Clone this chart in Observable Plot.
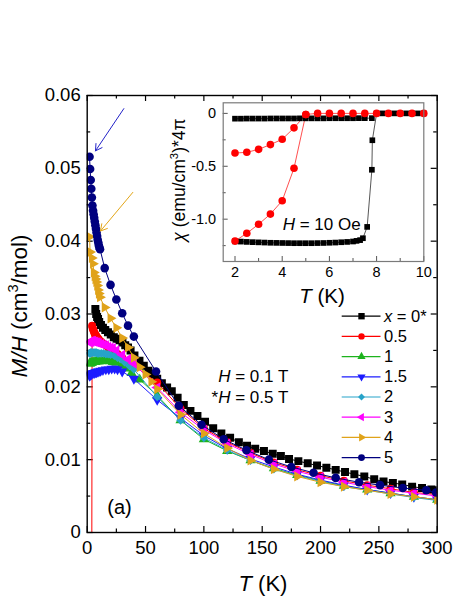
<!DOCTYPE html>
<html><head><meta charset="utf-8">
<script src="https://cdn.jsdelivr.net/npm/d3@7"></script>
<script src="https://cdn.jsdelivr.net/npm/@observablehq/plot@0.6"></script>
<style>
body{margin:0;background:#fff;}
#wrap{position:relative;width:463px;height:599px;overflow:hidden;background:#fff;}
#main{position:absolute;left:0;top:0;}
#inset{position:absolute;left:170px;top:95px;}
</style></head>
<body><div id="wrap"><div id="main"></div><div id="inset"></div></div>
<script>
// ---------------- data (main chart: M/H vs T) ----------------
const seriesNames = ["x = 0*", "0.5", "1", "1.5", "2", "3", "4", "5"];

const T_x0 = [7, 7.7, 8.5, 9.3, 10.3, 11.8, 13.5, 15.5, 17.8, 20.2, 22.8, 25.2, 27.7, 30.2, 32.6, 35, 37.2, 40.5, 44.8, 48.5, 52.5, 56.3, 60, 64, 68.5, 72.5, 77.5, 82.8, 88.5, 94.5, 101, 108, 115, 122.5, 130, 137, 144, 151.5, 159, 166, 173, 181, 189, 197, 205, 213, 221, 229, 237.5, 246, 254, 262, 270, 278.5, 287, 295, 300];
const M_x0 = [0.0307, 0.0300, 0.0296, 0.0293, 0.0289, 0.0285, 0.0281, 0.0278, 0.0275, 0.0272, 0.0268, 0.0266, 0.0264, 0.0261, 0.0257, 0.0254, 0.0250, 0.0243, 0.0236, 0.0229, 0.0222, 0.0217, 0.0211, 0.0205, 0.0199, 0.0194, 0.0185, 0.0175, 0.0167, 0.0160, 0.0152, 0.0143, 0.0136, 0.0130, 0.0124, 0.0119, 0.0115, 0.0112, 0.0108, 0.0105, 0.0101, 0.0098, 0.0095, 0.0092, 0.0089, 0.0086, 0.0083, 0.0080, 0.0077, 0.0073, 0.0070, 0.0068, 0.0066, 0.0063, 0.0061, 0.0059, 0.0058];

const T_x05 = [2, 3.9, 4.2, 4.6, 5, 5.5, 6, 6.5, 7, 7.5, 8, 9, 10, 12, 14, 16, 18, 20, 23, 26, 30, 35, 40, 60, 80, 100, 120, 140, 160, 180, 200, 220, 240, 260, 280, 300];
const M_x05 = [-0.02, -0.01, 0.0284, 0.0281, 0.0279, 0.0277, 0.0275, 0.0273, 0.0272, 0.0270, 0.0269, 0.0267, 0.0265, 0.0262, 0.0259, 0.0257, 0.0254, 0.0252, 0.0249, 0.0245, 0.0240, 0.0235, 0.0229, 0.0206, 0.0170, 0.0143, 0.0124, 0.0109, 0.0096, 0.0086, 0.0078, 0.0071, 0.0065, 0.0060, 0.0055, 0.0052];

const T_x1 = [2, 2.5, 3, 3.5, 4, 5, 6, 7, 8, 9, 10, 12, 14, 16, 18, 20, 22, 25, 29, 33, 38, 45, 60, 80, 100, 120, 140, 160, 180, 200, 220, 240, 260, 280, 300];
const M_x1 = [0.0232, 0.0232, 0.0233, 0.0233, 0.0233, 0.0234, 0.0234, 0.0234, 0.0235, 0.0235, 0.0235, 0.0235, 0.0236, 0.0236, 0.0236, 0.0235, 0.0234, 0.0233, 0.0229, 0.0225, 0.0219, 0.0210, 0.0188, 0.0154, 0.0128, 0.0112, 0.0099, 0.0088, 0.0079, 0.0071, 0.0064, 0.0059, 0.0054, 0.0049, 0.0045];

const T_x15 = [2, 2.5, 3, 3.5, 4, 5, 6, 7, 8, 9, 10, 11.5, 13.5, 16, 18.5, 21, 23.5, 26, 30, 40, 60, 80, 100, 120, 140, 160, 180, 200, 220, 240, 260, 280, 300];
const M_x15 = [0.0215, 0.0216, 0.0217, 0.0217, 0.0218, 0.0219, 0.0219, 0.0220, 0.0220, 0.0221, 0.0221, 0.0222, 0.0223, 0.0224, 0.0224, 0.0225, 0.0225, 0.0224, 0.0221, 0.0211, 0.0182, 0.0157, 0.0133, 0.0115, 0.0101, 0.0090, 0.0080, 0.0072, 0.0065, 0.0059, 0.0054, 0.0049, 0.0045];

const T_x2 = [2, 2.5, 3, 3.5, 4, 5, 6, 7, 8, 9, 10, 12, 14, 16, 18, 20, 23, 26, 29, 32, 36, 40, 60, 80, 100, 120, 140, 160, 180, 200, 220, 240, 260, 280, 300];
const M_x2 = [0.0246, 0.0246, 0.0247, 0.0247, 0.0247, 0.0247, 0.0247, 0.0247, 0.0247, 0.0246, 0.0246, 0.0246, 0.0246, 0.0245, 0.0245, 0.0244, 0.0243, 0.0240, 0.0238, 0.0234, 0.0229, 0.0224, 0.0186, 0.0154, 0.0130, 0.0113, 0.0099, 0.0087, 0.0078, 0.0070, 0.0063, 0.0058, 0.0053, 0.0048, 0.0044];

const T_x3 = [2, 2.5, 3, 3.5, 4, 5, 6, 7, 8, 9, 10, 12, 14, 16, 18, 20, 22, 25, 30, 35, 40, 60, 80, 100, 120, 140, 160, 180, 200, 220, 240, 260, 280, 300];
const M_x3 = [0.0261, 0.0262, 0.0262, 0.0262, 0.0263, 0.0263, 0.0262, 0.0262, 0.0261, 0.0261, 0.0260, 0.0259, 0.0258, 0.0257, 0.0255, 0.0254, 0.0253, 0.0250, 0.0244, 0.0238, 0.0232, 0.0199, 0.0165, 0.0141, 0.0122, 0.0107, 0.0094, 0.0084, 0.0076, 0.0069, 0.0063, 0.0058, 0.0054, 0.0050];

const T_x4 = [2, 2.5, 4, 5, 5.7, 6.4, 7.1, 7.8, 8.6, 9.3, 10, 11, 15, 20, 25, 30, 35, 40, 45, 50, 55, 60, 80, 100, 120, 140, 160, 180, 200, 220, 240, 260, 280, 300];
const M_x4 = [0.0406, 0.0385, 0.0377, 0.0369, 0.0357, 0.0352, 0.0348, 0.0344, 0.0339, 0.0333, 0.0328, 0.0323, 0.0309, 0.0294, 0.0281, 0.0267, 0.0254, 0.0240, 0.0227, 0.0217, 0.0207, 0.0197, 0.0162, 0.0136, 0.0116, 0.0099, 0.0087, 0.0077, 0.0069, 0.0063, 0.0058, 0.0053, 0.0049, 0.0045];

const T_x5 = [2, 2.5, 3, 3.5, 4, 4.5, 5, 5.5, 6, 6.5, 7, 7.5, 8, 8.5, 9, 9.5, 10, 10.5, 11, 15, 20, 25, 30, 35, 40, 59, 78.5, 98, 117, 136.5, 155.7, 175, 194, 213, 233, 251, 270.5, 290.6, 299];
const M_x5 = [0.0516, 0.0499, 0.0484, 0.0472, 0.0460, 0.0449, 0.0442, 0.0437, 0.0432, 0.0427, 0.0422, 0.0417, 0.0412, 0.0407, 0.0402, 0.0398, 0.0394, 0.0391, 0.0389, 0.0363, 0.0340, 0.0320, 0.0301, 0.0284, 0.0269, 0.0221, 0.0174, 0.0148, 0.0128, 0.0113, 0.0100, 0.0090, 0.0082, 0.0075, 0.0069, 0.0065, 0.0061, 0.0058, 0.0055];

// annotation arrows (T, M/H) start -> end
const arrowStart = [[31.4, 0.0582], [39.1, 0.0467]];
const arrowEnd = [[7.1, 0.0524], [11.4, 0.0414]];

// tick values
const xTicks = [0, 50, 100, 150, 200, 250, 300];
const xMinorTicks = [25, 75, 125, 175, 225, 275];
const yTicks = [0, 0.01, 0.02, 0.03, 0.04, 0.05, 0.06];
const yMinorTicks = [0.005, 0.015, 0.025, 0.035, 0.045, 0.055];

// ---------------- data (inset: chi vs T at 10 Oe) ----------------
const insetT_x0_zfc = [2, 2.25, 2.5, 2.75, 3, 3.25, 3.5, 3.75, 4, 4.25, 4.5, 4.75, 5, 5.25, 5.5, 5.75, 6, 6.25, 6.5, 6.75, 7, 7.15, 7.3, 7.42, 7.6, 7.8, 7.82, 8, 8.25, 8.5, 8.75, 9, 9.25, 9.5, 9.75, 10];
const insetChi_x0_zfc = [-1.21, -1.212, -1.215, -1.217, -1.219, -1.221, -1.223, -1.224, -1.225, -1.226, -1.227, -1.227, -1.227, -1.227, -1.226, -1.225, -1.223, -1.221, -1.218, -1.215, -1.211, -1.205, -1.198, -1.18, -1.073, -0.533, -0.254, 0, 0, 0, 0, 0, 0, 0, 0, 0];
const insetT_x0_fc = [2, 2.25, 2.5, 2.75, 3, 3.25, 3.5, 3.75, 4, 4.25, 4.5, 4.75, 5, 5.25, 5.5, 5.75, 6, 6.25, 6.5, 6.75, 7, 7.25, 7.5, 7.8];
const insetChi_x0_fc = [-0.050, -0.050, -0.049, -0.049, -0.049, -0.049, -0.048, -0.048, -0.048, -0.048, -0.048, -0.047, -0.047, -0.047, -0.047, -0.047, -0.046, -0.046, -0.046, -0.046, -0.046, -0.045, -0.045, -0.045];
const insetT_x05_zfc = [2, 2.5, 3, 3.5, 4, 4.5, 5, 5.5, 6, 6.5, 7, 7.5, 8, 8.5, 9, 9.5, 10];
const insetChi_x05_zfc = [-1.207, -1.133, -1.048, -0.952, -0.826, -0.518, -0.01, 0, 0, 0, 0, 0, 0, 0, 0, 0, 0];
const insetT_x05_fc = [2, 2.5, 3, 3.5, 4, 4.5, 5];
const insetChi_x05_fc = [-0.375, -0.368, -0.34, -0.295, -0.245, -0.137, -0.01];

const insetXTicks = [2, 4, 6, 8, 10];
const insetXMinorTicks = [3, 5, 7, 9];
const insetYTicks = [0, -0.5, -1.0];
const insetYLabels = ["0", "-0.5", "-1.0"];
const insetYMinorTicks = [-0.25, -0.75, -1.25];

// ---------------- styles ----------------
const FONT = '"Liberation Sans", Arial, sans-serif';
const S3 = Math.sqrt(3);
function tri(rotDeg) {
  const a = rotDeg * Math.PI / 180, c = Math.cos(a), s = Math.sin(a);
  return {draw(ctx, size) {
    const y = -Math.sqrt(size / (S3 * 3));
    const pts = [[0, y * 2], [-S3 * y, -y], [S3 * y, -y]];
    pts.forEach(([px, py], i) => {
      const X = px * c - py * s, Y = px * s + py * c;
      if (i) ctx.lineTo(X, Y); else ctx.moveTo(X, Y);
    });
    ctx.closePath();
  }};
}
const colors = ["#000000", "#ff0000", "#1db31d", "#1c1cff", "#27a3c9", "#ff00ff", "#e0a31a", "#00007f"];
const symbols = ["square", "circle", tri(0), tri(180), "diamond2", tri(-90), tri(90), "circle"];
const radii = [4.5, 4.0, 3.8, 3.8, 3.9, 3.8, 3.8, 4.3];
const Ts = [T_x0, T_x05, T_x1, T_x15, T_x2, T_x3, T_x4, T_x5];
const Ms = [M_x0, M_x05, M_x1, M_x15, M_x2, M_x3, M_x4, M_x5];

// ---------------- main plot ----------------
const W = 463, H = 599, ML = 86.7, MR = 26.3, MT = 95, MB = 67;
const xpx = 300 / (W - ML - MR), ypx = 0.06 / (H - MT - MB);
const xOf = px => (px - ML) * xpx;
const yOf = py => (H - MB - py) * ypx;

const marks = [];
const tk = {stroke: "#000", strokeWidth: 1.2};
marks.push(Plot.ruleX(xTicks, {y1: 0, y2: 6 * ypx, ...tk}));
marks.push(Plot.ruleX(xMinorTicks, {y1: 0, y2: 3.5 * ypx, ...tk}));
marks.push(Plot.ruleX(xTicks, {y1: 0.06, y2: 0.06 - 6 * ypx, ...tk}));
marks.push(Plot.ruleX(xMinorTicks, {y1: 0.06, y2: 0.06 - 3.5 * ypx, ...tk}));
marks.push(Plot.ruleY(yTicks, {x1: 0, x2: 6 * xpx, ...tk}));
marks.push(Plot.ruleY(yMinorTicks, {x1: 0, x2: 3.5 * xpx, ...tk}));
marks.push(Plot.ruleY(yTicks, {x1: 300, x2: 300 - 6 * xpx, ...tk}));
marks.push(Plot.ruleY(yMinorTicks, {x1: 300, x2: 300 - 3.5 * xpx, ...tk}));
marks.push(Plot.axisX({ticks: xTicks, tickSize: 0, tickPadding: 8, label: null, fontSize: 18.5, anchor: "bottom"}));
marks.push(Plot.axisY({ticks: yTicks, tickSize: 0, tickPadding: 6.5, label: null, fontSize: 18.5, anchor: "left",
  tickFormat: d => d === 0 ? "0" : d.toFixed(2)}));

seriesNames.forEach((name, k) => {
  const data = Ts[k].map((t, i) => ({T: t, v: Ms[k][i]}));
  marks.push(Plot.line(data, {x: "T", y: "v", stroke: colors[k], strokeWidth: 1, clip: true}));
  marks.push(Plot.dot(data, {x: "T", y: "v", symbol: symbols[k], fill: colors[k], stroke: "none", r: radii[k], clip: true}));
});

const arrowColors = ["#2323c8", "#e3a618"];
arrowStart.forEach((s, i) => {
  marks.push(Plot.arrow([{x1: s[0], y1: s[1], x2: arrowEnd[i][0], y2: arrowEnd[i][1]}],
    {x1: "x1", y1: "y1", x2: "x2", y2: "y2", stroke: arrowColors[i], strokeWidth: 1, headLength: 11}));
});

// legend (lines + markers)
const legRow = i => 315.7 + i * 20.2;
seriesNames.forEach((name, k) => {
  marks.push(Plot.ruleY([yOf(legRow(k))], {x1: xOf(341.7), x2: xOf(380.5), stroke: colors[k], strokeWidth: 1.2}));
  marks.push(Plot.dot([0], {x: xOf(361), y: yOf(legRow(k)), symbol: symbols[k], fill: colors[k], stroke: "none", r: radii[k] * 0.8}));
});

marks.push(Plot.frame({stroke: "#000", strokeWidth: 1.4}));

const main = Plot.plot({
  width: W, height: H, marginLeft: ML, marginRight: MR, marginTop: MT, marginBottom: MB,
  x: {domain: [0, 300]}, y: {domain: [0, 0.06]},
  style: {background: "white", fontFamily: FONT, fontSize: "18.5px", color: "#000", overflow: "visible"},
  marks
});
document.getElementById("main").append(main);

function addText(svgNode, x, y, parts, {size = 17, anchor = "start", rotate = 0} = {}) {
  const t = d3.select(svgNode).append("text")
    .attr("transform", `translate(${x},${y}) rotate(${rotate})`)
    .attr("text-anchor", anchor).attr("font-size", size).attr("font-family", FONT).attr("fill", "#000");
  parts.forEach(p => {
    const ts = t.append("tspan").text(p.t);
    if (p.i) ts.attr("font-style", "italic");
    if (p.sup) ts.attr("font-size", size * 0.65).attr("dy", -size * 0.42);
    if (p.after) ts.attr("dy", size * 0.42);
  });
  return t;
}
// axis titles
addText(main, 27, 306, [{t: "M/H", i: true}, {t: " (cm"}, {t: "3", sup: true}, {t: "/mol)", after: true}], {size: 22.5, anchor: "middle", rotate: -90});
addText(main, 263, 590.5, [{t: "T", i: true}, {t: " (K)"}], {size: 22, anchor: "middle"});
// annotations
addText(main, 288.3, 382, [{t: "H", i: true}, {t: " = 0.1 T"}], {size: 17, anchor: "end"});
addText(main, 288.3, 402.8, [{t: "*"}, {t: "H", i: true}, {t: " = 0.5 T"}], {size: 17, anchor: "end"});
addText(main, 107.3, 513.8, [{t: "(a)"}], {size: 20});
// legend labels
seriesNames.forEach((name, k) => {
  const y = legRow(k) + 5.9;
  if (k === 0) addText(main, 384, y, [{t: "x", i: true}, {t: " = 0*"}], {size: 16.5});
  else addText(main, 384, y, [{t: name}], {size: 16.5});
});

// ---------------- inset ----------------
const IW = 270, IH = 215, IML = 52.7, IMT = 7.3, IMR = 16.7, IMB = 49;
const ixpx = 8.5 / (IW - IML - IMR), iypx = 1.5 / (IH - IMT - IMB);
const im = [];
const itk = {stroke: "#555", strokeWidth: 1};
im.push(Plot.ruleX(insetXTicks, {y1: -1.4, y2: -1.4 + 5 * iypx, ...itk}));
im.push(Plot.ruleX(insetXMinorTicks, {y1: -1.4, y2: -1.4 + 3 * iypx, ...itk}));
im.push(Plot.ruleY(insetYTicks, {x1: 1.5, x2: 1.5 + 5 * ixpx, ...itk}));
im.push(Plot.ruleY(insetYMinorTicks, {x1: 1.5, x2: 1.5 + 3 * ixpx, ...itk}));
im.push(Plot.axisX({ticks: insetXTicks, tickSize: 0, tickPadding: 5, label: null, fontSize: 14.5, anchor: "bottom"}));
im.push(Plot.text(insetYTicks, {x: 1.5, y: d => d, text: (d, i) => insetYLabels[i], textAnchor: "end", dx: -7, fontSize: 14.5, fill: "#000"}));
const toRows = (T, C) => T.map((t, i) => ({T: t, c: C[i]}));
const insetSets = [
  [toRows(insetT_x0_zfc, insetChi_x0_zfc), 0],
  [toRows(insetT_x0_fc, insetChi_x0_fc), 0],
  [toRows(insetT_x05_zfc, insetChi_x05_zfc), 1],
  [toRows(insetT_x05_fc, insetChi_x05_fc), 1]
];
const insetLine = ["#444", "#ff3b3b"];
const insetR = [3.2, 3.8];
insetSets.forEach(([rows, k]) => {
  im.push(Plot.line(rows, {x: "T", y: "c", stroke: insetLine[k], strokeWidth: 0.9}));
});
insetSets.forEach(([rows, k]) => {
  im.push(Plot.dot(rows, {x: "T", y: "c", symbol: symbols[k], fill: colors[k], stroke: "none", r: insetR[k]}));
});
im.push(Plot.frame({stroke: "#7a7a7a", strokeWidth: 1.2}));

const inset = Plot.plot({
  width: IW, height: IH, marginLeft: IML, marginRight: IMR, marginTop: IMT, marginBottom: IMB,
  x: {domain: [1.5, 10], axis: null}, y: {domain: [-1.4, 0.1], axis: null},
  style: {background: "none", fontFamily: FONT, fontSize: "14.5px", color: "#000", overflow: "visible"},
  marks: im
});
document.getElementById("inset").append(inset);
addText(inset, 15, 85, [{t: "\u03c7", i: true}, {t: " (emu/cm"}, {t: "3", sup: true}, {t: ")*4\u03c0", after: true}], {size: 17.5, anchor: "middle", rotate: -90});
addText(inset, 152, 208, [{t: "T", i: true}, {t: " (K)"}], {size: 20.5, anchor: "middle"});
addText(inset, 112.7, 135, [{t: "H", i: true}, {t: " = 10 Oe"}], {size: 17});
</script>
</body></html>
